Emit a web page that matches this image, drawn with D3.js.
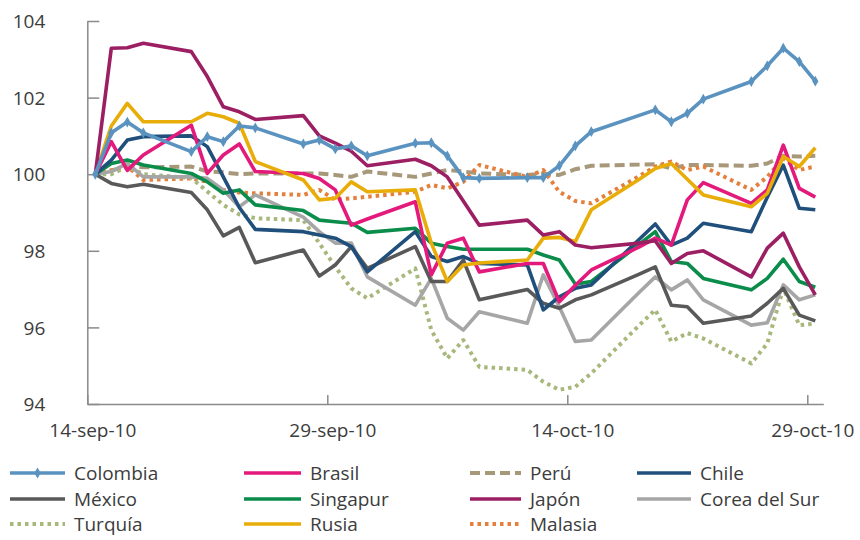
<!DOCTYPE html>
<html><head><meta charset="utf-8">
<script src="https://cdn.jsdelivr.net/npm/d3@7"></script>
<style>body{margin:0;background:#fff}svg{display:block;font-family:"Open Sans",sans-serif}</style>
</head><body><svg id="c" width="860" height="540"></svg>
<script>
const dates = ["2010-09-14","2010-09-15","2010-09-16","2010-09-17","2010-09-20","2010-09-21","2010-09-22","2010-09-23","2010-09-24",
"2010-09-27","2010-09-28","2010-09-29","2010-09-30","2010-10-01","2010-10-04","2010-10-05","2010-10-06","2010-10-07","2010-10-08",
"2010-10-11","2010-10-12","2010-10-13","2010-10-14","2010-10-15","2010-10-18","2010-10-19","2010-10-20","2010-10-21","2010-10-22",
"2010-10-25","2010-10-26","2010-10-27","2010-10-28","2010-10-29"];
const colombia = [100,101.08,101.36,101.08,100.59,100.98,100.85,101.26,101.21,100.79,100.89,100.66,100.74,100.48,100.81,100.82,100.48,99.91,99.89,99.91,99.91,100.22,100.74,101.11,null,101.68,101.37,101.59,101.96,102.42,102.83,103.29,102.94,102.43];
const brasil = [100,100.85,100.1,100.5,101.28,100.02,100.5,100.79,100.07,100.02,99.89,99.59,98.67,98.83,99.28,97.37,98.2,98.33,97.45,97.67,97.67,96.67,97.1,97.5,98.1,98.33,98.15,99.33,99.78,99.24,99.59,100.76,99.63,99.4];
const peru = [100,100.1,100.2,100.18,100.2,100.07,100.05,100.0,100.02,100.02,100.02,99.98,99.93,100.07,99.93,100.02,100.11,100.07,100.02,99.98,100.02,99.98,100.13,100.22,100.25,100.26,100.15,100.24,100.24,100.22,100.28,100.48,100.46,100.48];
const chile = [100,100.37,100.89,100.98,101.0,100.72,99.93,99.13,98.56,98.5,98.41,98.33,98.11,97.45,98.5,97.85,97.72,97.85,97.67,97.63,96.46,96.8,97.02,97.11,98.3,98.7,98.15,98.33,98.72,98.5,99.4,100.24,99.11,99.07];
const mexico = [100,99.76,99.67,99.74,99.52,99.07,98.39,98.61,97.69,98.02,97.34,97.63,98.11,97.54,98.11,97.2,97.2,97.76,96.72,96.99,96.63,96.5,96.72,96.85,97.39,97.58,96.58,96.54,96.11,96.3,96.63,97.02,96.32,96.17];
const singapur = [100,100.28,100.37,100.24,100.02,99.8,99.5,99.59,99.2,99.05,98.8,98.76,98.72,98.48,98.59,98.2,98.11,98.04,98.04,98.04,97.89,97.76,97.13,97.2,98.17,98.5,97.72,97.67,97.28,96.98,97.28,97.78,97.2,97.05];
const japon = [100,103.29,103.3,103.42,103.2,102.55,101.76,101.63,101.43,101.53,101.0,100.81,100.6,100.22,100.39,100.22,99.93,99.3,98.67,98.8,98.41,98.5,98.15,98.08,98.2,98.26,97.67,97.93,98.0,97.32,98.07,98.46,97.58,96.85];
const corea = [100,100.07,100.28,99.93,99.93,99.89,99.59,99.15,99.46,98.88,98.5,98.2,98.2,97.32,96.58,97.28,96.24,95.93,96.41,96.11,97.37,96.54,95.63,95.67,96.92,97.32,96.98,97.24,96.72,96.06,96.12,97.11,96.72,96.85];
const turquia = [100,100.0,100.2,100.0,99.9,99.55,99.2,98.95,98.85,98.8,98.2,97.58,97.02,96.76,97.54,95.93,95.19,95.67,94.97,94.89,94.58,94.37,94.45,94.8,96.06,96.46,95.63,95.85,95.71,95.06,95.58,97.02,96.06,96.1];
const rusia = [100,101.26,101.85,101.37,101.37,101.59,101.5,101.33,100.33,99.85,99.33,99.37,99.8,99.54,99.59,98.2,97.2,97.63,97.68,97.76,98.33,98.35,98.24,99.07,99.87,100.15,100.28,99.87,99.46,99.15,99.5,100.46,100.2,100.69];
const malasia = [100,100.1,100.2,99.85,99.89,99.8,99.59,99.52,99.5,99.46,99.59,99.33,99.37,99.41,99.54,99.72,99.63,99.8,100.24,99.93,100.11,99.54,99.3,99.24,99.95,100.2,100.33,100.11,100.2,99.59,99.93,100.41,100.11,100.2];

const yTicks = [94,96,98,100,102,104];
const xTickDates = ["2010-09-14","2010-09-29","2010-10-14","2010-10-29"];
const xTickLabels = ["14-sep-10","29-sep-10","14-oct-10","29-oct-10"];
const axisStart = "2010-09-14", axisEnd = "2010-10-30";

const series = [
  {name:"Colombia", values:colombia, color:"#5b93c0", dash:null, marker:true},
  {name:"Brasil", values:brasil, color:"#e3197b", dash:null},
  {name:"Perú", values:peru, color:"#a8987a", dash:"10,5"},
  {name:"Chile", values:chile, color:"#1f4f7a", dash:null},
  {name:"México", values:mexico, color:"#595959", dash:null},
  {name:"Singapur", values:singapur, color:"#0a8c4b", dash:null},
  {name:"Japón", values:japon, color:"#9c1f63", dash:null},
  {name:"Corea del Sur", values:corea, color:"#a6a6a6", dash:null},
  {name:"Turquía", values:turquia, color:"#a8b87c", dash:"3.5,4"},
  {name:"Rusia", values:rusia, color:"#e8ad08", dash:null},
  {name:"Malasia", values:malasia, color:"#e47f3c", dash:"3.5,4"}
];
const drawOrder = ["Perú","Malasia","Turquía","Corea del Sur","México","Singapur","Chile","Brasil","Rusia","Japón","Colombia"];

const parse = d3.timeParse("%Y-%m-%d");
const svg = d3.select("#c");
const x = d3.scaleTime().domain([parse(axisStart), parse(axisEnd)]).range([87.3, 823.3]);
const y = d3.scaleLinear().domain([94,104]).range([404,21]);
const axisColor = "#8a8a8a", textColor = "#3c3c3c";

const gy = svg.append("g").attr("transform","translate(87.3,0)")
  .call(d3.axisLeft(y).tickValues(yTicks).tickFormat(d3.format("d")).tickSizeInner(-12).tickSizeOuter(0).tickPadding(42));
const gx = svg.append("g").attr("transform","translate(0,404)")
  .call(d3.axisBottom(x).tickValues(xTickDates.map(parse)).tickFormat((d,i)=>xTickLabels[i]).tickSizeInner(-9).tickSizeOuter(0).tickPadding(0));
[gx,gy].forEach(g=>{
  g.select(".domain").attr("stroke",axisColor).attr("stroke-width",1.5);
  g.selectAll(".tick line").attr("stroke",axisColor).attr("stroke-width",1.5);
  g.selectAll("text").attr("fill",textColor).attr("font-size",19).attr("font-family","'Open Sans',sans-serif");
});
gx.selectAll("text").attr("y",33).attr("dy",null).attr("dx",5);
gy.selectAll("text").attr("dy","0.35em");

const line = d3.line().x(p=>x(p.d)).y(p=>y(p.v));
const byName = Object.fromEntries(series.map(s=>[s.name,s]));
drawOrder.forEach(n=>{
  const s = byName[n];
  const pts = dates.map((d,i)=>({d:d3.timeHour.offset(parse(d),12), v:s.values[i]})).filter(p=>p.v!=null);
  svg.append("path").datum(pts).attr("d",line).attr("fill","none")
    .attr("stroke",s.color).attr("stroke-width",s.dash?4:3.6)
    .attr("stroke-dasharray",s.dash).attr("stroke-linejoin","round");
  if(s.marker){
    svg.append("g").selectAll("path").data(pts).join("path")
      .attr("transform",p=>`translate(${x(p.d)},${y(p.v)})`)
      .attr("d",d3.symbol(d3.symbolDiamond,34)).attr("fill",s.color);
  }
});

// legend
const colX = [10,244,470,637], textX=[74,310,530,700], rowY=[473,499,524];
series.forEach((s,i)=>{
  const c = i%4, r = Math.floor(i/4);
  const g = svg.append("g");
  const x0 = colX[c], x1 = textX[c]-9;
  g.append("line").attr("x1",x0).attr("x2",x1).attr("y1",rowY[r]).attr("y2",rowY[r])
    .attr("stroke",s.color).attr("stroke-width",s.dash?4:3.6).attr("stroke-dasharray",s.dash);
  if(s.marker) g.append("path").attr("transform",`translate(${(x0+x1)/2},${rowY[r]})`)
    .attr("d",d3.symbol(d3.symbolDiamond,34)).attr("fill",s.color);
  g.append("text").attr("x",textX[c]).attr("y",rowY[r]).attr("dy","0.36em")
    .attr("font-size",19).attr("fill",textColor).text(s.name);
});
</script></body></html>
